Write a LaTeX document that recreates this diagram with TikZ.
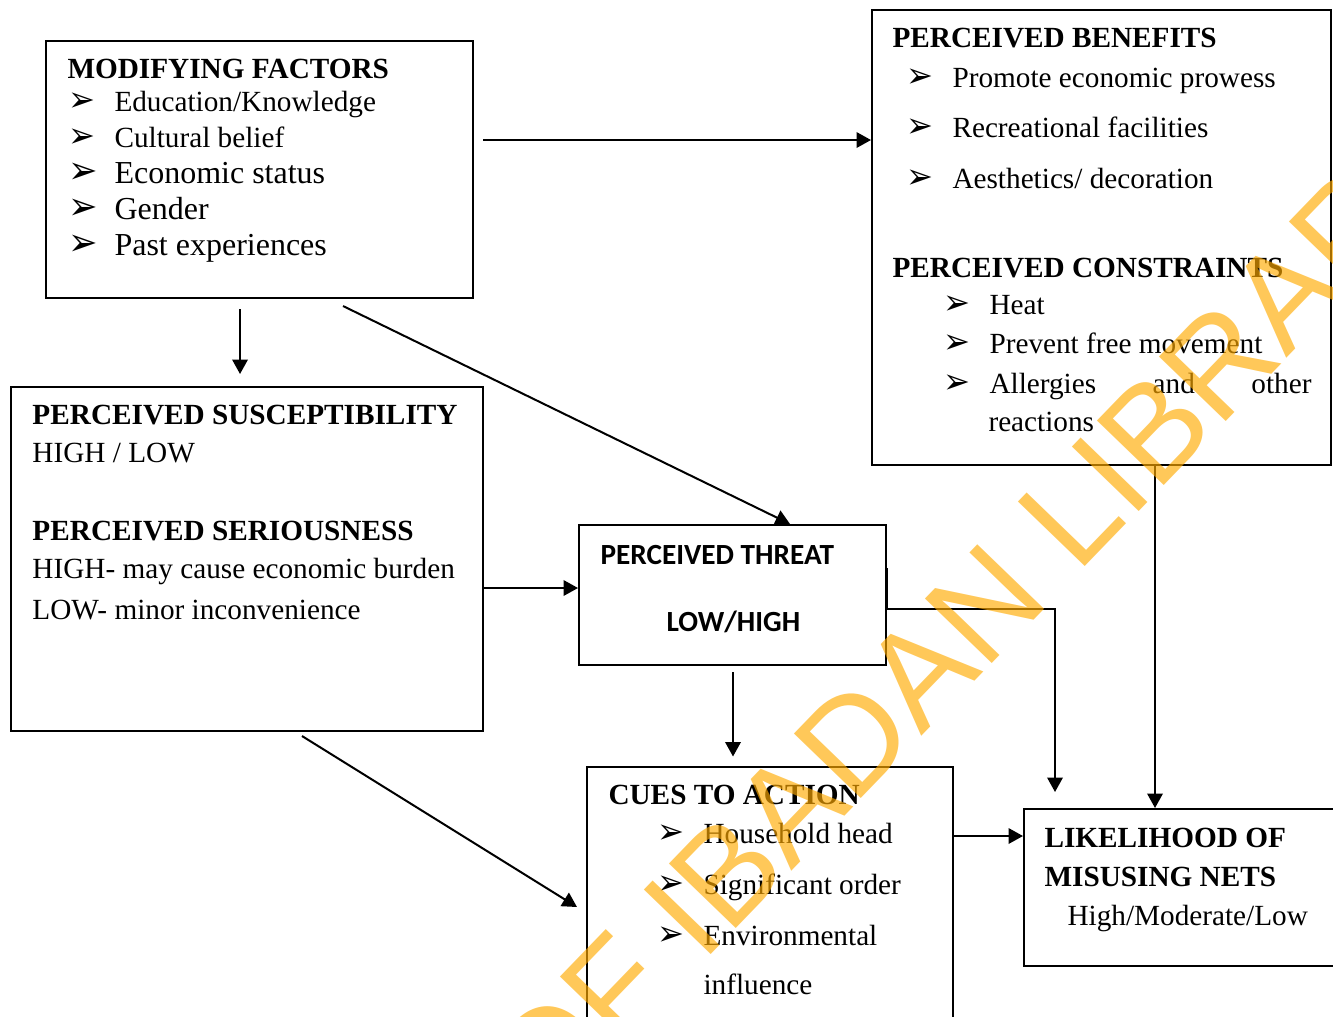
\documentclass[tikz,border=0pt]{standalone}
\usepackage{fontspec}
\setmainfont{Liberation Serif}
\newfontfamily\calibfont{Carlito}
\newfontfamily\dvfont{DejaVu Sans}
\newfontfamily\wmfont{Liberation Sans}
\usetikzlibrary{arrows.meta,fit}
\definecolor{wmorange}{RGB}{255,170,0}

\newcommand\bul{\raisebox{-0.3pt}{\scalebox{1.1}[1.2]{\dvfont ➢}}}
\newcommand\itm[1]{\makebox[18.4pt][l]{\bul}#1}

\tikzset{
  >={Triangle[length=5.8pt,width=6.2pt]},
  box/.style={draw,line width=0.8pt,inner sep=0pt},
  txt/.style={anchor=base west,inner sep=0pt,font=\fontsize{11.7}{14}\selectfont},
  bigtxt/.style={txt,font=\fontsize{12.8}{15}\selectfont},
  hd/.style={txt,font=\fontsize{11.7}{14}\selectfont\bfseries},
  sanshd/.style={txt,font=\calibfont\fontsize{11.7}{14}\selectfont\bfseries},
  ar/.style={->,line width=0.8pt},
  wm/.style={inner sep=0pt,anchor=base,text=wmorange,text opacity=0.65,
    font=\wmfont\fontsize{54}{54}\selectfont},
}

\begin{document}
\begin{tikzpicture}[x=0.4pt,y=-0.4pt]
  \useasboundingbox (0,0) rectangle (1333,1016);
  \clip (0,0) rectangle (1333,1016);

  % boxes
  \node[box,fit={(46,41) (473,298)}] (mf) {};
  \node[box,fit={(872,10) (1331,465)}] (pb) {};
  \node[box,fit={(11,387) (483,731)}] (ps) {};
  \node[box,fit={(579,525) (886,665)}] (pt) {};
  \node[box,fit={(587,767) (953,1040)}] (ca) {};
  \node[box,fit={(1024,809) (1340,966)}] (lk) {};

  % modifying factors
  \node[hd] (mfh) at (67,78) {MODIFYING FACTORS};
  \node[txt] (mf1) at (68,111) {\itm{Education/Knowledge}};
  \node[txt] (mf2) at (68,147) {\itm{Cultural belief}};
  \foreach \y/\t [count=\k from 3] in {183/{Economic status},219/Gender,
      255/{Past experiences}}
    \node[bigtxt] (mf\k) at (68,\y) {\itm{\t}};

  % benefits and constraints
  \node[hd] (pbh) at (892,47) {PERCEIVED BENEFITS};
  \foreach \y/\t [count=\k] in {87/{Promote economic prowess},
      137/{Recreational facilities},188/{Aesthetics/ decoration}}
    \node[txt] (pb\k) at (906,\y) {\itm{\t}};
  \node[hd] (pch) at (892,277) {PERCEIVED CONSTRAINTS};
  \node[txt] (pc1) at (943,314) {\itm{Heat}};
  \node[txt] (pc2) at (943,353) {\itm{Prevent free movement}};
  \node[txt] (pc3) at (943,393) {\itm{\makebox[128.8pt][s]{Allergies and other}}};
  \node[txt] (pc4) at (988,431) {reactions};

  % susceptibility / seriousness
  \node[hd] (psh) at (32,424) {PERCEIVED SUSCEPTIBILITY};
  \node[txt] (ps1) at (32,462) {HIGH / LOW};
  \node[hd] (srh) at (32,540) {PERCEIVED SERIOUSNESS};
  \node[txt] (sr1) at (32,578) {HIGH- may cause economic burden};
  \node[txt] (sr2) at (32,619) {LOW- minor inconvenience};

  % threat
  \node[sanshd] (pth) at (600,564) {PERCEIVED THREAT};
  \node[sanshd] (pt1) at (666,631) {LOW/HIGH};

  % cues
  \node[hd] (cah) at (608,804) {CUES TO ACTION};
  \foreach \y/\t [count=\k] in {843/{Household head},894/{Significant order},
      945/{Environmental}}
    \node[txt] (ca\k) at (657,\y) {\itm{\t}};
  \node[txt] (ca4) at (703,994) {influence};

  % likelihood
  \node[hd] (lkh) at (1044,847) {LIKELIHOOD OF};
  \node[hd] (lk1) at (1044,886) {MISUSING NETS};
  \node[txt] (lk2) at (1067,925) {High/Moderate/Low};

  % connectors
  \coordinate (a1) at (483,140);
  \draw[ar] (a1) -- (a1 -| pb.west);
  \coordinate (a2) at (240,309);
  \draw[ar,shorten >=4.8pt] (a2) -- (a2 |- ps.north);
  \coordinate (a3) at (343,306);
  \draw[ar] (a3) -- ([xshift=23pt]pt.north);
  \coordinate (a4) at (483,588);
  \draw[ar] (a4) -- (a4 -| pt.west);
  \coordinate (a5) at (733,672);
  \draw[ar,shorten >=3.8pt] (a5) -- (a5 |- ca.north);
  \coordinate (a6) at (302,736);
  \coordinate (a6e) at (577,907);
  \draw[ar] (a6) -- (a6e);
  \coordinate (a7) at (887,568);
  \coordinate (a7k) at (887,609);
  \coordinate (c7) at (1055,0);
  \draw[ar,shorten >=6.4pt] (a7) -- (a7k) -| (lk.north -| c7);
  \coordinate (a8) at (1155,465);
  \draw[ar] (a8) -- (a8 |- lk.north);
  \coordinate (a9) at (953,836);
  \draw[ar] (a9) -- (a9 -| lk.west);

  % watermark
  \node[wm,rotate=46] (wmark) at (1012,643) {OF IBADAN LIBRARY};
\end{tikzpicture}
\end{document}
